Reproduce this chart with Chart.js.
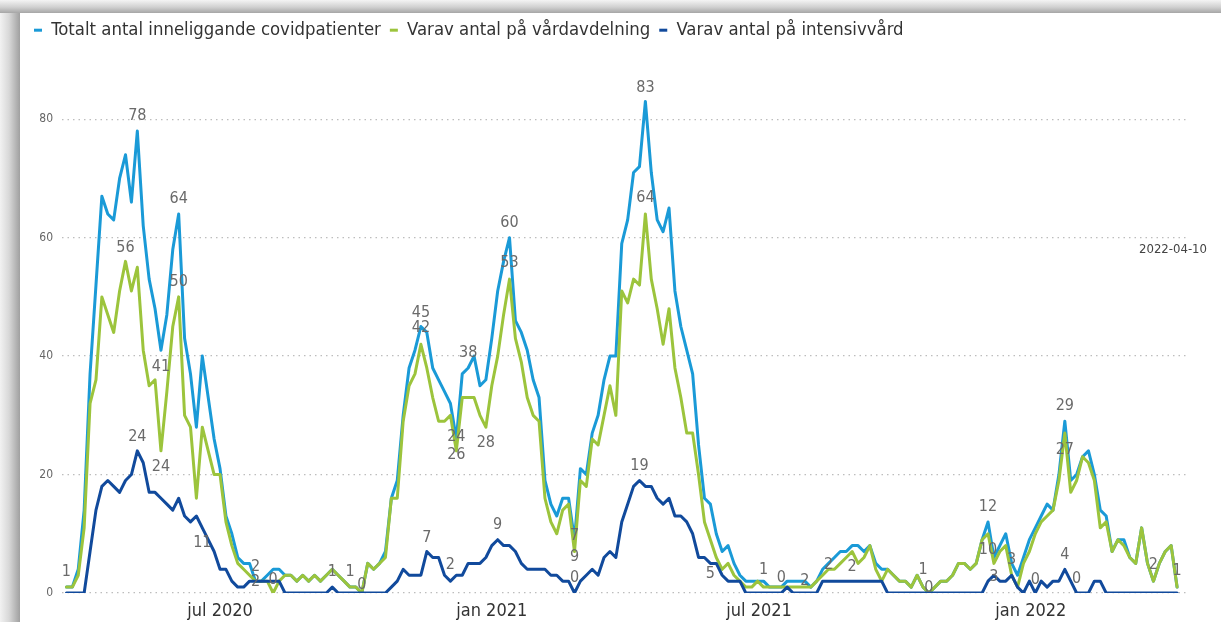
<!DOCTYPE html>
<html><head><meta charset="utf-8">
<script src="https://cdn.jsdelivr.net/npm/chart.js@4.4.1/dist/chart.umd.min.js"></script>
<style>
html,body{margin:0;padding:0;background:#fff;overflow:hidden}
#wrap{position:relative;width:1221px;height:622px;overflow:hidden;background:#fff}
#sl{position:absolute;left:0;top:0;width:20px;height:622px;background:linear-gradient(to right,#f2f2f2 0%,#d8d8d8 45%,#a0a0a0 100%)}
#st{position:absolute;left:0;top:0;width:1221px;height:13px;background:linear-gradient(to bottom,#f4f4f4 0%,#d0d0d0 55%,#a6a6a6 100%)}
#cv{position:absolute;left:0;top:0;width:1221px;height:622px}
</style></head><body>
<div id="wrap"><div id="sl"></div><div id="st"></div><div id="cv"><canvas id="c"></canvas></div></div>
<script>
// ---- data ----
const firstDate = '2020-03-19';
const dayStep = 4;
const seriesNames = ['Totalt antal inneliggande covidpatienter', 'Varav antal på vårdavdelning', 'Varav antal på intensivvård'];
const totalValues = [
1,1,4,14,37,52,67,64,63,70,
74,66,78,62,53,48,41,47,58,64,
43,37,28,40,33,26,21,13,10,6,
5,5,2,2,3,4,4,3,3,2,
3,2,3,2,3,4,3,2,1,1,
0,5,4,5,7,16,19,30,38,41,
45,44,38,36,34,32,26,37,38,40,
35,36,43,51,56,60,46,44,41,36,
33,19,15,13,16,16,9,21,20,27,
30,36,40,40,59,63,71,72,83,71,
63,61,65,51,45,41,37,25,16,15,
10,7,8,5,3,2,2,2,2,1,
1,1,2,2,2,2,1,2,4,5,
6,7,7,8,8,7,8,5,4,4,
3,2,2,1,3,1,0,1,2,2,
3,5,5,4,5,9,12,6,8,10,
5,3,6,9,11,13,15,14,20,29,
19,20,23,24,20,14,13,7,9,9,
6,5,11,5,2,5,7,8,1];
const wardValues = [
1,1,3,11,32,36,50,47,44,51,
56,51,55,41,35,36,24,34,45,50,
30,28,16,28,24,20,20,12,8,5,
4,3,2,2,2,0,2,3,3,2,
3,2,3,2,3,4,3,2,1,1,
0,5,4,5,6,16,16,29,35,37,
42,38,33,29,29,30,24,33,33,33,
30,28,35,40,47,53,43,39,33,30,
29,16,12,10,14,15,7,19,18,26,
25,30,35,30,51,49,53,52,64,53,
48,42,48,38,33,27,27,20,12,9,
6,4,5,3,2,1,1,2,1,1,
1,1,1,1,1,1,1,2,3,4,
4,5,6,7,5,6,8,4,2,4,
3,2,2,1,3,1,0,1,2,2,
3,5,5,4,5,9,10,5,7,8,
3,1,5,7,10,12,13,14,19,27,
17,19,23,22,19,11,12,7,9,8,
6,5,11,5,2,5,7,8,1];
const icuValues = [
0,0,0,0,7,14,18,19,18,17,
19,20,24,22,17,17,16,15,14,16,
13,12,13,11,9,7,4,4,2,1,
1,2,2,2,2,2,2,0,0,0,
0,0,0,0,0,1,0,0,0,0,
0,0,0,0,0,1,2,4,3,3,
3,7,6,6,3,2,3,3,5,5,
5,6,8,9,8,8,7,5,4,4,
4,4,3,3,2,2,0,2,3,4,
3,6,7,6,12,15,18,19,18,18,
16,15,16,13,13,12,10,6,6,5,
5,3,2,2,2,0,0,0,0,0,
0,0,1,0,0,0,0,0,2,2,
2,2,2,2,2,2,2,2,2,0,
0,0,0,0,0,0,0,0,0,0,
0,0,0,0,0,0,2,3,2,2,
3,1,0,2,0,2,1,2,2,4,
2,0,0,0,2,2,0,0,0,0,
0,0,0,0,0,0,0,0,0];
const tickDates = ['2020-07-01', '2021-01-01', '2021-07-01', '2022-01-01'];
const tickLabels = ['jul 2020', 'jan 2021', 'jul 2021', 'jan 2022'];
const yTickValues = [0, 20, 40, 60, 80];
const dateNote = '2022-04-10';
// labelled points: [series, index, vertical offset]
const pointLabels = [[1,0,-15],[0,12,-15],[1,10,-14],[0,19,-15],[1,19,-15],[0,16,17],[1,16,16],[2,12,-14],[2,23,15],[0,32,-14],[2,32,1],[1,35,-13],[2,45,-15],[1,48,-15],[1,50,-8],[0,60,-14],[1,60,-16],[2,61,-14],[2,65,-16],[1,66,-14],[0,66,16],[0,68,-15],[1,71,16],[2,73,-15],[0,75,-15],[1,75,-16],[1,86,-16],[0,86,17],[2,86,-15],[0,98,-14],[1,98,-16],[2,97,-15],[2,109,10],[1,118,-17],[2,121,-15],[0,125,0],[2,129,-16],[2,133,-14],[1,145,-17],[1,146,-5],[0,156,-15],[1,156,16],[2,157,2],[2,160,-15],[2,164,-13],[0,169,-15],[1,169,17],[2,169,-14],[2,171,-14],[1,184,-16],[1,188,-16]];

// ---- derived ----
const DAY = 86400000;
const dayOf = d => Math.round((Date.parse(d) - Date.parse(firstDate)) / DAY);
const categories = totalValues.map((_, i) => new Date(Date.parse(firstDate) + i * dayStep * DAY).toISOString().slice(0, 10));
const xDays = categories.map(dayOf);
const tickDays = tickDates.map(dayOf);
const toPts = arr => arr.map((v, i) => ({x: xDays[i], y: v}));

const FONT = "'Liberation Sans Narrow', 'DejaVu Sans Condensed', 'Roboto', sans-serif";
const colors = ['#1a9ad7', '#9cc43c', '#114a9c'];

const legendFit = {
  id: 'legendFit',
  beforeInit(chart) {
    const orig = chart.legend.fit;
    chart.legend.fit = function () { orig.call(this); this.height = 48; };
  }
};
const labelPlugin = {
  id: 'pointLabels',
  afterDatasetsDraw(chart) {
    const ctx = chart.ctx;
    ctx.save();
    ctx.font = '16px ' + FONT;
    ctx.fillStyle = '#6a6a6a';
    ctx.textAlign = 'center';
    ctx.textBaseline = 'middle';
    for (const [s, i, dy] of pointLabels) {
      const el = chart.getDatasetMeta(s).data[i];
      const v = chart.data.datasets[s].data[i].y;
      ctx.fillText(String(v), el.x, el.y + dy);
    }
    const ys = chart.scales.y;
    ctx.font = '13px ' + FONT;
    ctx.fillStyle = '#444';
    ctx.textAlign = 'right';
    ctx.textBaseline = 'alphabetic';
    ctx.fillText(dateNote, chart.chartArea.right + 19, ys.getPixelForValue(60) + 15);
    ctx.restore();
  }
};

new Chart(document.getElementById('c'), {
  type: 'line',
  data: {
    datasets: [
      {label: seriesNames[0], data: toPts(totalValues), borderColor: colors[0], backgroundColor: colors[0], order: 2},
      {label: seriesNames[1], data: toPts(wardValues), borderColor: colors[1], backgroundColor: colors[1], order: 1},
      {label: seriesNames[2], data: toPts(icuValues), borderColor: colors[2], backgroundColor: colors[2], order: 0}
    ]
  },
  options: {
    responsive: true,
    maintainAspectRatio: false,
    animation: false,
    devicePixelRatio: 1,
    elements: {
      line: {borderWidth: 3, tension: 0, borderJoinStyle: 'round', borderCapStyle: 'round'},
      point: {radius: 0, hoverRadius: 0}
    },
    layout: {padding: {left: 25, right: 33, top: 12, bottom: 0}},
    plugins: {
      tooltip: {enabled: false},
      legend: {
        position: 'top',
        align: 'start',
        labels: {
          boxWidth: 8, boxHeight: 3, padding: 9, color: '#333',
          font: {family: FONT, size: 18.4},
          sort: (a, b) => a.datasetIndex - b.datasetIndex,
          generateLabels: chart => Chart.defaults.plugins.legend.labels.generateLabels(chart).map(l => Object.assign(l, {lineWidth: 0, fillStyle: colors[l.datasetIndex]}))
        }
      }
    },
    scales: {
      x: {
        type: 'linear',
        min: -3,
        max: dayOf(dateNote) + 7.4,
        grid: {display: false, drawTicks: false},
        border: {display: false},
        afterBuildTicks: ax => { ax.ticks = tickDays.map(v => ({value: v})); },
        afterFit: ax => { ax.height = 29; },
        ticks: {
          autoSkip: false, maxRotation: 0, padding: 8, color: '#333',
          font: {family: FONT, size: 18},
          callback: v => tickLabels[tickDays.indexOf(v)] || ''
        }
      },
      y: {
        min: 0, max: 90,
        afterBuildTicks: ax => { ax.ticks = yTickValues.map(v => ({value: v})); },
        afterFit: ax => { ax.width = 37; },
        grid: {color: '#bdbdbd', lineWidth: 1.3, drawTicks: false},
        border: {display: false, dash: [1.5, 4]},
        ticks: {padding: 9, color: '#666', font: {family: FONT, size: 12}}
      }
    }
  },
  plugins: [legendFit, labelPlugin]
});
</script>
</body></html>
